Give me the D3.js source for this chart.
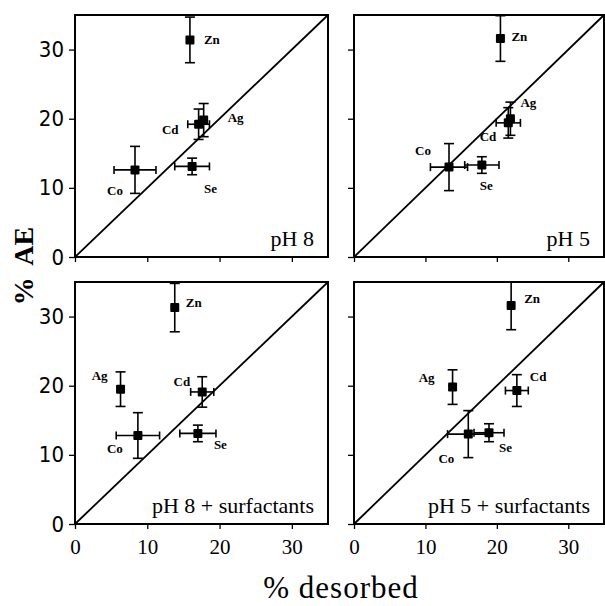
<!DOCTYPE html>
<html>
<head>
<meta charset="utf-8">
<script src="https://cdn.jsdelivr.net/npm/d3@7"></script>
<style>
  body { margin: 0; background: white; }
  svg { display: block; }
</style>
</head>
<body>
<script>
// element order is the same in every panel
var elements = ["Zn", "Ag", "Cd", "Co", "Se"];
var panelNames = ["pH 8", "pH 5", "pH 8 + surfactants", "pH 5 + surfactants"];

// % desorbed (x) and % AE (y), with error half-widths
var desorbed_pH8   = [15.9, 17.8, 17.1, 8.3, 16.2];
var desorbedErr_pH8 = [0, 0, 1.5, 2.9, 2.4];
var ae_pH8         = [31.4, 19.8, 19.2, 12.6, 13.1];
var aeErr_pH8      = [3.3, 2.4, 2.2, 3.4, 1.2];

var desorbed_pH5   = [20.5, 21.9, 21.6, 13.3, 17.9];
var desorbedErr_pH5 = [0, 0, 1.7, 2.6, 2.4];
var ae_pH5         = [31.6, 20.0, 19.4, 13.0, 13.3];
var aeErr_pH5      = [3.3, 2.4, 2.2, 3.4, 1.2];

var desorbed_pH8s   = [13.8, 6.3, 17.6, 8.7, 17.0];
var desorbedErr_pH8s = [0, 0, 1.6, 3.0, 2.5];
var ae_pH8s         = [31.3, 19.5, 19.1, 12.8, 13.1];
var aeErr_pH8s      = [3.5, 2.5, 2.2, 3.3, 1.2];

var desorbed_pH5s   = [22.0, 13.8, 22.8, 16.0, 18.9];
var desorbedErr_pH5s = [0, 0, 1.6, 2.9, 2.1];
var ae_pH5s         = [31.6, 19.8, 19.3, 13.0, 13.2];
var aeErr_pH5s      = [3.5, 2.5, 2.3, 3.4, 1.3];

var tickValues = [0, 10, 20, 30];

var panelData = [
  [desorbed_pH8, desorbedErr_pH8, ae_pH8, aeErr_pH8],
  [desorbed_pH5, desorbedErr_pH5, ae_pH5, aeErr_pH5],
  [desorbed_pH8s, desorbedErr_pH8s, ae_pH8s, aeErr_pH8s],
  [desorbed_pH5s, desorbedErr_pH5s, ae_pH5s, aeErr_pH5s]
];

// label placement [dx, dy, anchor] per panel, per element
var labelPos = [
  { Zn: [14, 0, "start"], Ag: [24, -3, "start"], Cd: [-20, 5, "end"], Co: [-12, 21, "end"], Se: [12, 22, "start"] },
  { Zn: [11, -2, "start"], Ag: [10, -16, "start"], Cd: [-12, 14, "end"], Co: [-18, -17, "end"], Se: [-2, 20, "start"] },
  { Zn: [11, -5, "start"], Ag: [-13, -14, "end"], Cd: [-12, -10, "end"], Co: [-15, 13, "end"], Se: [16, 11, "start"] },
  { Zn: [13, -7, "start"], Ag: [-18, -10, "end"], Cd: [13, -14, "start"], Co: [-14, 24, "end"], Se: [10, 15, "start"] }
];

var W = 605, H = 606;
var serif = "'Liberation Serif', 'DejaVu Serif', serif";
var narrow = "'Liberation Sans Narrow', 'DejaVu Sans Condensed', 'Liberation Sans', sans-serif";

var svg = d3.select("body").append("svg")
  .attr("width", W)
  .attr("height", H);

// panel frames
var cols = [75, 354];
var rows = [15, 282];
var pws = [253, 250], ph = 242;

panelNames.forEach(function (name, i) {
  var col = i % 2, row = Math.floor(i / 2);
  var x0 = cols[col], y0 = rows[row], pw = pws[col];
  var x = d3.scaleLinear().domain([0, 35]).range([x0, x0 + pw]);
  var y = d3.scaleLinear().domain([0, 35]).range([y0 + ph, y0]);
  var g = svg.append("g");

  // axes
  var xAxis = d3.axisBottom(x).tickValues(tickValues).tickSize(5).tickSizeOuter(0)
    .tickFormat(row === 1 ? d3.format("d") : "");
  var gx = g.append("g").attr("transform", "translate(0," + (y0 + ph) + ")").call(xAxis);
  gx.select(".domain").remove();
  gx.selectAll("line").attr("stroke-width", 1.3);
  gx.selectAll("text").attr("font-family", serif).attr("font-size", 21)
    .attr("y", 15).attr("dy", "0.7em").attr("fill", "#000");

  var yAxis = d3.axisLeft(y).tickValues(tickValues).tickSize(6).tickSizeOuter(0)
    .tickFormat(col === 0 ? d3.format("d") : "");
  var gy = g.append("g").attr("transform", "translate(" + x0 + ",0)").call(yAxis);
  gy.select(".domain").remove();
  gy.selectAll("line").attr("stroke-width", 1.3);
  gy.selectAll("text").attr("font-family", narrow).attr("font-size", 22)
    .attr("x", -11).attr("fill", "#000");

  // frame
  g.append("rect")
    .attr("x", x0).attr("y", y0).attr("width", pw).attr("height", ph)
    .attr("fill", "none").attr("stroke", "#000").attr("stroke-width", 2);

  // 1:1 line
  g.append("line")
    .attr("x1", x(0)).attr("y1", y(0)).attr("x2", x(35)).attr("y2", y(35))
    .attr("stroke", "#000").attr("stroke-width", 1.8);

  var d = panelData[i];
  var pts = elements.map(function (el, k) {
    return { el: el, x: d[0][k], xe: d[1][k], y: d[2][k], ye: d[3][k] };
  });

  var cap = 5, sw = 1.6;
  var pg = g.selectAll("g.pt").data(pts).enter().append("g").attr("class", "pt");

  // vertical error bars, clipped at the frame top
  pg.filter(function (p) { return p.ye > 0; }).each(function (p) {
    var s = d3.select(this);
    var top = Math.min(p.y + p.ye, 35), bot = p.y - p.ye;
    s.append("line").attr("x1", x(p.x)).attr("x2", x(p.x)).attr("y1", y(top)).attr("y2", y(bot))
      .attr("stroke", "#000").attr("stroke-width", sw);
    s.append("line").attr("x1", x(p.x) - cap).attr("x2", x(p.x) + cap).attr("y1", y(top)).attr("y2", y(top))
      .attr("stroke", "#000").attr("stroke-width", sw);
    s.append("line").attr("x1", x(p.x) - cap).attr("x2", x(p.x) + cap).attr("y1", y(bot)).attr("y2", y(bot))
      .attr("stroke", "#000").attr("stroke-width", sw);
  });

  // horizontal error bars
  pg.filter(function (p) { return p.xe > 0; }).each(function (p) {
    var s = d3.select(this);
    var lo = p.x - p.xe, hi = p.x + p.xe;
    s.append("line").attr("x1", x(lo)).attr("x2", x(hi)).attr("y1", y(p.y)).attr("y2", y(p.y))
      .attr("stroke", "#000").attr("stroke-width", sw);
    s.append("line").attr("x1", x(lo)).attr("x2", x(lo)).attr("y1", y(p.y) - cap + 1).attr("y2", y(p.y) + cap - 1)
      .attr("stroke", "#000").attr("stroke-width", sw);
    s.append("line").attr("x1", x(hi)).attr("x2", x(hi)).attr("y1", y(p.y) - cap + 1).attr("y2", y(p.y) + cap - 1)
      .attr("stroke", "#000").attr("stroke-width", sw);
  });

  // square markers
  var ms = 9;
  pg.append("rect")
    .attr("x", function (p) { return x(p.x) - ms / 2; })
    .attr("y", function (p) { return y(p.y) - ms / 2; })
    .attr("width", ms).attr("height", ms)
    .attr("rx", 1)
    .attr("fill", "#000");

  // element labels
  pg.append("text")
    .attr("x", function (p) { return x(p.x) + labelPos[i][p.el][0]; })
    .attr("y", function (p) { return y(p.y) + labelPos[i][p.el][1]; })
    .attr("dy", "0.35em")
    .attr("text-anchor", function (p) { return labelPos[i][p.el][2]; })
    .attr("font-family", serif)
    .attr("font-weight", "bold")
    .attr("font-size", 13)
    .text(function (p) { return p.el; });

  // panel name
  g.append("text")
    .attr("x", x0 + pw - 14)
    .attr("y", y0 + ph - 11)
    .attr("text-anchor", "end")
    .attr("font-family", serif)
    .attr("font-size", 22)
    .text(name);
});

// axis titles
svg.append("text")
  .attr("transform", "translate(33,266) rotate(-90)")
  .attr("text-anchor", "middle")
  .attr("font-family", serif)
  .attr("font-weight", "bold")
  .attr("font-size", 28)
  .attr("word-spacing", 6)
  .text("% AE");

svg.append("text")
  .attr("x", 341)
  .attr("y", 598)
  .attr("text-anchor", "middle")
  .attr("font-family", serif)
  .attr("font-size", 31)
  .attr("letter-spacing", 1)
  .text("% desorbed");
</script>
</body>
</html>
